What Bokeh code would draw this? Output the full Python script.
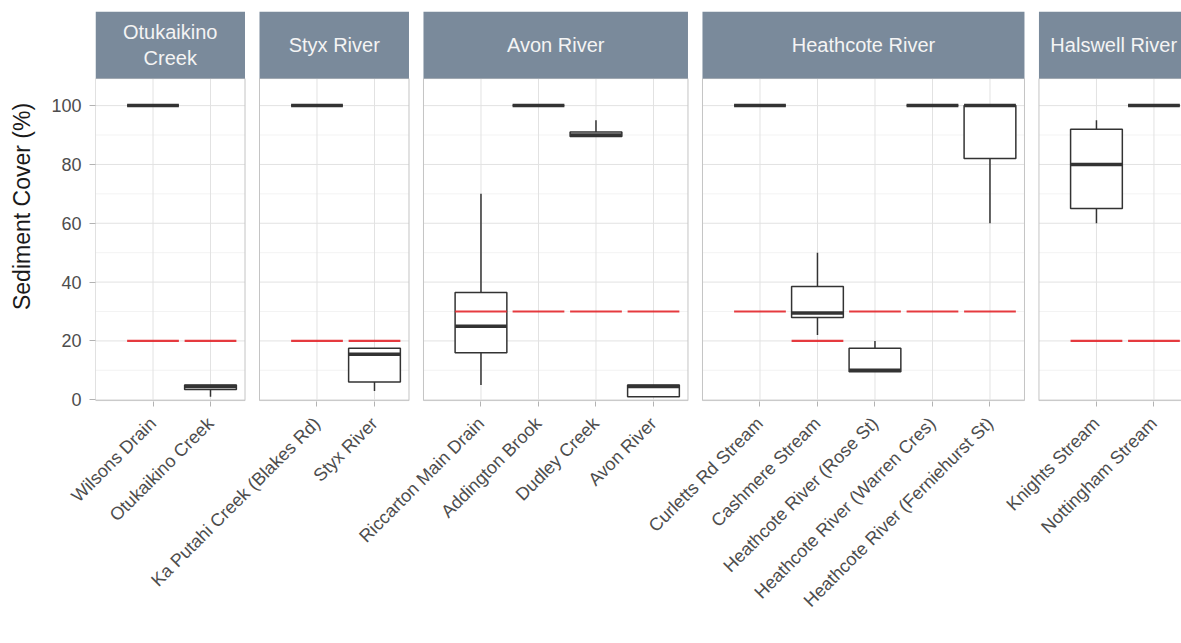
import math
from bokeh.plotting import figure
from bokeh.models import Range1d, FixedTicker, CustomJSTickFormatter
from bokeh.core.properties import value
from bokeh.embed import file_html
from bokeh.resources import INLINE

# ---------------- data ----------------
facets = ["Otukaikino\nCreek", "Styx River", "Avon River", "Heathcote River", "Halswell River"]
facet_sizes = [2, 2, 4, 5, 2]
sites = [
    "Wilsons Drain", "Otukaikino Creek",
    "Ka Putahi Creek (Blakes Rd)", "Styx River",
    "Riccarton Main Drain", "Addington Brook", "Dudley Creek", "Avon River",
    "Curletts Rd Stream", "Cashmere Stream", "Heathcote River (Rose St)",
    "Heathcote River (Warren Cres)", "Heathcote River (Ferniehurst St)",
    "Knights Stream", "Nottingham Stream",
]
lower = [100, 1, 100, 3, 5, 100, 89.5, 1, 100, 22, 9.5, 100, 60, 60, 100]
q1 = [100, 3.5, 100, 6, 16, 100, 89.5, 1, 100, 28, 9.5, 100, 82, 65, 100]
median = [100, 4.5, 100, 15.5, 25, 100, 90, 4.5, 100, 29.5, 10, 100, 100, 80, 100]
q3 = [100, 5, 100, 17.5, 36.5, 100, 91, 5, 100, 38.5, 17.5, 100, 100, 92, 100]
upper = [100, 5, 100, 17.5, 70, 100, 95, 5, 100, 50, 20, 100, 100, 95, 100]
guideline = [20, 20, 20, 20, 30, 30, 30, 30, 30, 20, 30, 30, 30, 20, 20]
y_ticks = [0, 20, 40, 60, 80, 100]
y_minor = [10, 30, 50, 70, 90]

# ---------------- layout (facet panels on one numeric axis) ----------------
PAD_L, PAD_R, GAP = 1.0, 0.6, 0.252
BOX_W = 0.9
Y_BOT, PANEL_TOP, STRIP_TOP = -0.3, 109.2, 132.0

xs, panel_l, panel_r = [], [], []
start = 0.0
for n in facet_sizes:
    panel_l.append(start)
    for j in range(n):
        xs.append(round(start + PAD_L + j, 4))
    end = start + PAD_L + (n - 1) + PAD_R
    panel_r.append(end)
    start = end + GAP

FONT = value("Liberation Sans")

p = figure(
    frame_width=1086, frame_height=390,
    x_range=Range1d(0, 1086 / 57.5), y_range=Range1d(-0.6, STRIP_TOP),
    output_backend="svg", toolbar_location=None,
    min_border_left=95, min_border_right=0, min_border_top=11, min_border_bottom=0,
    outline_line_color=None, background_fill_color="white", border_fill_color="white",
)
p.xgrid.visible = False
p.ygrid.visible = False

# grid lines per panel
gx0, gx1, gy0, gy1 = [], [], [], []
mx0, mx1, my0, my1 = [], [], [], []
for l, r in zip(panel_l, panel_r):
    for yv in y_ticks:
        gx0.append(l); gx1.append(r); gy0.append(yv); gy1.append(yv)
    for yv in y_minor:
        mx0.append(l); mx1.append(r); my0.append(yv); my1.append(yv)
for x in xs:
    gx0.append(x); gx1.append(x); gy0.append(Y_BOT); gy1.append(PANEL_TOP)
p.segment(x0=mx0, x1=mx1, y0=my0, y1=my1, line_color="#f0f0f0", line_width=0.8)
p.segment(x0=gx0, x1=gx1, y0=gy0, y1=gy1, line_color="#e2e2e2", line_width=1)

# boxplots
BOX_COL = "#333333"
p.segment(x0=xs, x1=xs, y0=q3, y1=upper, line_color=BOX_COL, line_width=1.5)
p.segment(x0=xs, x1=xs, y0=lower, y1=q1, line_color=BOX_COL, line_width=1.5)
p.vbar(x=xs, width=BOX_W, bottom=q1, top=q3, fill_color="white",
       line_color=BOX_COL, line_width=1.5)
half = BOX_W / 2
p.segment(x0=[x - half for x in xs], x1=[x + half for x in xs], y0=median, y1=median,
          line_color=BOX_COL, line_width=3.5)

# guideline
p.segment(x0=[x - half for x in xs], x1=[x + half for x in xs], y0=guideline, y1=guideline,
          line_color="#e3262b", line_width=2.2, line_alpha=0.9)

# panel borders
p.quad(left=panel_l, right=panel_r, bottom=Y_BOT, top=PANEL_TOP,
       fill_color=None, line_color="#c4c4c4", line_width=1)

# strips
p.quad(left=panel_l, right=panel_r, bottom=PANEL_TOP, top=STRIP_TOP,
       fill_color="#7a8a9b", line_color=None)
p.text(x=[(l + r) / 2 for l, r in zip(panel_l, panel_r)],
       y=[(PANEL_TOP + STRIP_TOP) / 2] * len(facets), text=facets,
       text_align="center", text_baseline="middle", text_color="#f4f4f4",
       text_font=FONT, text_font_size="20px", text_line_height=1.2)

# axes
yax = p.yaxis[0]
yax.ticker = FixedTicker(ticks=y_ticks)
yax.axis_line_color = None
yax.minor_tick_line_color = None
yax.major_tick_line_color = "#b3b3b3"
yax.major_tick_out = 6
yax.major_tick_in = 0
yax.major_label_standoff = 8
yax.major_label_text_font = "Liberation Sans"
yax.major_label_text_font_size = "18px"
yax.major_label_text_color = "#4d4d4d"
yax.axis_label = "Sediment Cover (%)"
yax.axis_label_text_font = "Liberation Sans"
yax.axis_label_text_font_size = "23px"
yax.axis_label_text_font_style = "normal"
yax.axis_label_text_color = "#1a1a1a"
yax.axis_label_standoff = 13

xax = p.xaxis[0]
xax.ticker = FixedTicker(ticks=xs)
xax.formatter = CustomJSTickFormatter(args=dict(pos=xs, names=sites), code="""
    for (let i = 0; i < pos.length; i++) {
        if (Math.abs(pos[i] - tick) < 1e-6) { return names[i]; }
    }
    return "";
""")
xax.axis_line_color = None
xax.minor_tick_line_color = None
xax.major_tick_line_color = "#b3b3b3"
xax.major_tick_out = 5
xax.major_tick_in = 0
xax.major_label_standoff = 14
xax.major_label_orientation = math.pi / 4
xax.major_label_text_font = "Liberation Sans"
xax.major_label_text_font_size = "18px"
xax.major_label_text_color = "#4d4d4d"

open("out.html", "w").write(file_html(p, INLINE))
